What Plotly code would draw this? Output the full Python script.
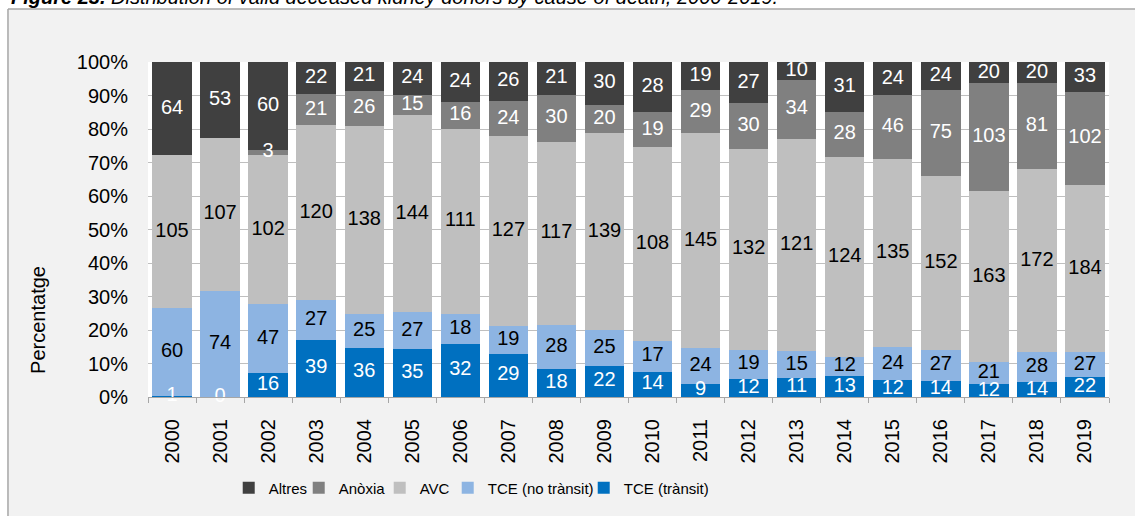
import plotly.graph_objects as go

################################# Data

years = [str(y) for y in range(2000, 2020)]

altres = [64, 53, 60, 22, 21, 24, 24, 26, 21, 30, 28, 19, 27, 10, 31, 24, 24, 20, 20, 33]
anoxia = [None, None, 3, 21, 26, 15, 16, 24, 30, 20, 19, 29, 30, 34, 28, 46, 75, 103, 81, 102]
avc = [105, 107, 102, 120, 138, 144, 111, 127, 117, 139, 108, 145, 132, 121, 124, 135, 152, 163, 172, 184]
tce_no_transit = [60, 74, 47, 27, 25, 27, 18, 19, 28, 25, 17, 24, 19, 15, 12, 24, 27, 21, 28, 27]
tce_transit = [1, 0, 16, 39, 36, 35, 32, 29, 18, 22, 14, 9, 12, 11, 13, 12, 14, 12, 14, 22]

# stacking order: first one sits at the bottom
series = [
    ("TCE (trànsit)", tce_transit, "#0070c0", "white"),
    ("TCE (no trànsit)", tce_no_transit, "#8db4e2", "black"),
    ("AVC", avc, "#bfbfbf", "black"),
    ("Anòxia", anoxia, "#808080", "white"),
    ("Altres", altres, "#404040", "white"),
]

# legend entry widths (px) so the legend keys sit where Excel puts them
legend_w = {"Altres": 25, "Anòxia": 36, "AVC": 23, "TCE (no trànsit)": 91, "TCE (trànsit)": 80}

FONT = "Liberation Sans, Arial, sans-serif"

################################# Figure

fig = go.Figure()
for name, vals, color, _ in series:
    fig.add_trace(
        go.Bar(
            x=years,
            y=vals,
            name=name,
            marker=dict(color=color, line=dict(width=0)),
            legendwidth=legend_w[name],
            hoverinfo="x+y+name",
        )
    )

# data labels drawn above every bar (Excel puts them on top of all segments)
totals = [sum(v[i] or 0 for _, v, _, _ in series) for i in range(len(years))]
base = [0.0] * len(years)
for name, vals, _, txtcolor in series:
    mids, labels = [], []
    for i, v in enumerate(vals):
        share = 100.0 * (v or 0) / totals[i]
        mids.append(None if v is None else base[i] + share / 2)
        labels.append("" if v is None else str(v))
        base[i] += share
    fig.add_trace(
        go.Scatter(
            x=years,
            y=mids,
            mode="text",
            text=labels,
            textposition="middle center",
            textfont=dict(color=txtcolor, size=20, family=FONT),
            cliponaxis=False,
            showlegend=False,
            hoverinfo="skip",
        )
    )

fig.update_layout(
    width=1135,
    height=516,
    barmode="stack",
    barnorm="percent",
    bargap=0.18,
    paper_bgcolor="#f2f2f2",
    plot_bgcolor="white",
    margin=dict(l=148, r=26, t=62, b=119),
    font=dict(family=FONT, size=20, color="black"),
    showlegend=True,
    legend=dict(
        orientation="h",
        traceorder="reversed",
        x=0.084,
        xanchor="left",
        y=-0.272,
        yanchor="middle",
        font=dict(size=15, family=FONT),
        bgcolor="rgba(0,0,0,0)",
    ),
)

fig.update_yaxes(
    range=[0, 100],
    dtick=10,
    ticksuffix="%",
    showgrid=True,
    gridcolor="#bfbfbf",
    gridwidth=1,
    zeroline=False,
    showline=False,
    ticks="",
    ticklabelstandoff=19,
    tickfont=dict(size=20),
)
fig.update_xaxes(
    range=[-0.5, len(years) - 0.5],
    tickangle=-90,
    tickson="boundaries",
    ticks="outside",
    ticklen=5,
    tickcolor="#a6a6a6",
    showline=True,
    linecolor="#a6a6a6",
    linewidth=1,
    showgrid=False,
    ticklabelstandoff=13,
    tickfont=dict(size=20),
)

# white strip above / left of the chart box, plus the box border
box_x = -0.1457
box_y = 1.158
fig.add_shape(type="rect", xref="paper", yref="paper", x0=-1, x1=2, y0=box_y, y1=2,
              fillcolor="white", line_width=0, layer="above")
fig.add_shape(type="rect", xref="paper", yref="paper", x0=-1, x1=box_x, y0=-1, y1=2,
              fillcolor="white", line_width=0, layer="above")
fig.add_shape(type="line", xref="paper", yref="paper", x0=box_x, x1=2, y0=box_y, y1=box_y,
              line=dict(color="#a6a6a6", width=1.5))
fig.add_shape(type="line", xref="paper", yref="paper", x0=box_x, x1=box_x, y0=-1, y1=box_y,
              line=dict(color="#a6a6a6", width=1.5))

fig.add_annotation(
    text="<b>Figure 23.</b> Distribution of valid deceased kidney donors by cause of death, 2000-2019.",
    xref="paper", yref="paper", x=-0.1446, y=1.156,
    xanchor="left", yanchor="bottom", showarrow=False,
    font=dict(size=20, family=FONT, color="black", style="italic"),
)
fig.add_annotation(
    text="Percentatge",
    xref="paper", yref="paper", x=-0.1145, y=0.23,
    xanchor="center", yanchor="middle",
    textangle=-90, showarrow=False,
    font=dict(size=20, family=FONT, color="black"),
)

fig.write_html(
    "out.html",
    config={"displayModeBar": False},
    post_script="document.body.style.margin='0px';",
)
